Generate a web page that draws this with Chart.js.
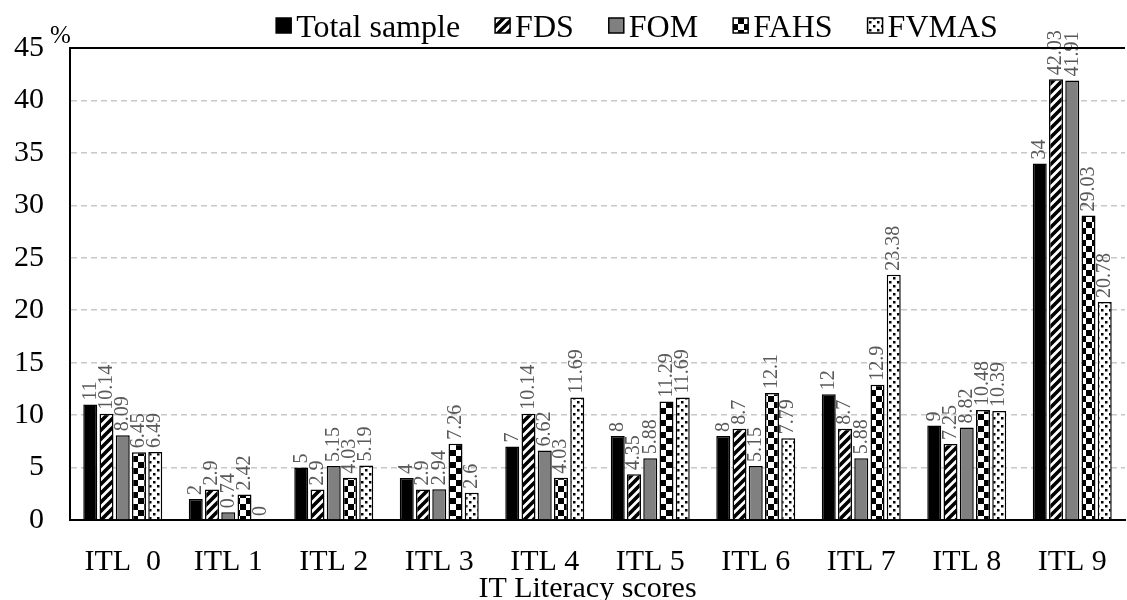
<!DOCTYPE html>
<html lang="en">
<head>
<meta charset="UTF-8">
<title>IT Literacy scores</title>
<script src="https://cdn.jsdelivr.net/npm/chart.js"></script>
<style>
  html, body { margin: 0; padding: 0; background: #fff; }
  canvas { display: block; }
</style>
</head>
<body>
<canvas id="chart" width="1127" height="600"></canvas>
<script>
// data
const categories = ["ITL  0", "ITL 1", "ITL 2", "ITL 3", "ITL 4", "ITL 5", "ITL 6", "ITL 7", "ITL 8", "ITL 9"];
const totalSample = [11, 2, 5, 4, 7, 8, 8, 12, 9, 34];
const fds   = [10.14, 2.9, 2.9, 2.9, 10.14, 4.35, 8.7, 8.7, 7.25, 42.03];
const fom   = [8.09, 0.74, 5.15, 2.94, 6.62, 5.88, 5.15, 5.88, 8.82, 41.91];
const fahs  = [6.45, 2.42, 4.03, 7.26, 4.03, 11.29, 12.1, 12.9, 10.48, 29.03];
const fvmas = [6.49, 0, 5.19, 2.6, 11.69, 11.69, 7.79, 23.38, 10.39, 20.78];

const FONT = "'Liberation Serif', 'Times New Roman', serif";

// fill patterns
function tile(w, h, draw) {
  const c = document.createElement('canvas');
  c.width = w; c.height = h;
  const g = c.getContext('2d');
  g.fillStyle = '#fff';
  g.fillRect(0, 0, w, h);
  g.fillStyle = '#000';
  g.strokeStyle = '#000';
  draw(g);
  return document.createElement('canvas').getContext('2d').createPattern(c, 'repeat');
}
const stripes = tile(9, 9, g => {
  g.lineWidth = 3.6;
  g.beginPath();
  g.moveTo(-1, 10); g.lineTo(10, -1);
  g.moveTo(-5, 5); g.lineTo(5, -5);
  g.moveTo(4, 14); g.lineTo(14, 4);
  g.stroke();
});
const checker = tile(12, 12, g => {
  g.fillRect(0, 0, 6, 6);
  g.fillRect(6, 6, 6, 6);
});
const dots = tile(8, 8, g => {
  g.fillRect(1, 1, 2.5, 2.5);
  g.fillRect(5, 5, 2.5, 2.5);
});

// value labels, rotated, above each bar
const valueLabels = {
  id: 'valueLabels',
  afterDatasetsDraw(chart) {
    const ctx = chart.ctx;
    ctx.save();
    ctx.font = '20px ' + FONT;
    ctx.fillStyle = '#595959';
    ctx.textAlign = 'left';
    ctx.textBaseline = 'middle';
    chart.data.datasets.forEach((ds, i) => {
      chart.getDatasetMeta(i).data.forEach((bar, j) => {
        ctx.save();
        ctx.translate(bar.x, bar.y - 4);
        ctx.rotate(-Math.PI / 2);
        ctx.fillText(String(ds.data[j]), 0, 0);
        ctx.restore();
      });
    });
    ctx.restore();
  }
};

// top frame line, "%" unit mark, axis title and a compact legend
const frame = {
  id: 'frame',
  afterDraw(chart) {
    const { ctx, chartArea } = chart;
    ctx.save();
    ctx.strokeStyle = '#000';
    ctx.lineWidth = 2;
    ctx.beginPath();
    ctx.moveTo(chartArea.left, chartArea.top);
    ctx.lineTo(chartArea.right, chartArea.top);
    ctx.stroke();

    ctx.fillStyle = '#000';
    ctx.textAlign = 'left';
    ctx.textBaseline = 'alphabetic';
    ctx.font = '25px ' + FONT;
    ctx.fillText('%', chartArea.left - 20, chartArea.top - 5);

    ctx.font = '30px ' + FONT;
    ctx.textAlign = 'center';
    ctx.fillText('IT Literacy scores', chartArea.left + (chartArea.right - chartArea.left) / 2 - 10, 597);

    // legend
    ctx.font = '32px ' + FONT;
    ctx.textAlign = 'left';
    const box = 15, gap = 5, space = 35;
    const items = chart.data.datasets.map(ds => ({ ds, w: ctx.measureText(ds.label).width }));
    const total = items.reduce((s, it) => s + box + gap + it.w, 0) + space * (items.length - 1);
    let x = 637 - total / 2;
    items.forEach(it => {
      ctx.fillStyle = it.ds.backgroundColor;
      ctx.fillRect(x, 18, box, box);
      ctx.lineWidth = 1.5;
      ctx.strokeStyle = '#000';
      ctx.strokeRect(x, 18, box, box);
      ctx.fillStyle = '#000';
      ctx.fillText(it.ds.label, x + box + gap, 37);
      x += box + gap + it.w + space;
    });
    ctx.restore();
  }
};

function series(label, data, fill) {
  return {
    label: label,
    data: data,
    backgroundColor: fill,
    borderColor: '#000',
    borderWidth: 1.5,
    categoryPercentage: 0.77,
    barPercentage: 0.86
  };
}

new Chart(document.getElementById('chart'), {
  type: 'bar',
  data: {
    labels: categories,
    datasets: [
      series('Total sample', totalSample, '#000'),
      series('FDS', fds, stripes),
      series('FOM', fom, '#808080'),
      series('FAHS', fahs, checker),
      series('FVMAS', fvmas, dots)
    ]
  },
  options: {
    responsive: false,
    animation: false,
    layout: { padding: { left: 0, right: 2, top: 48, bottom: 0 } },
    plugins: {
      tooltip: { enabled: false },
      legend: { display: false }
    },
    scales: {
      x: {
        afterFit(s) { s.height = 80; },
        grid: { display: false },
        border: { color: '#000', width: 2 },
        ticks: { color: '#000', font: { family: FONT, size: 30 }, maxRotation: 0, padding: 16 }
      },
      y: {
        afterFit(s) { s.width = 70; },
        min: 0,
        max: 45,
        ticks: { stepSize: 5, color: '#000', font: { family: FONT, size: 30 }, padding: 26 },
        grid: { color: '#c8c8c8', lineWidth: 1.5, drawTicks: false },
        border: { color: '#000', width: 2, dash: [6, 4] }
      }
    }
  },
  plugins: [valueLabels, frame]
});
</script>
</body>
</html>
